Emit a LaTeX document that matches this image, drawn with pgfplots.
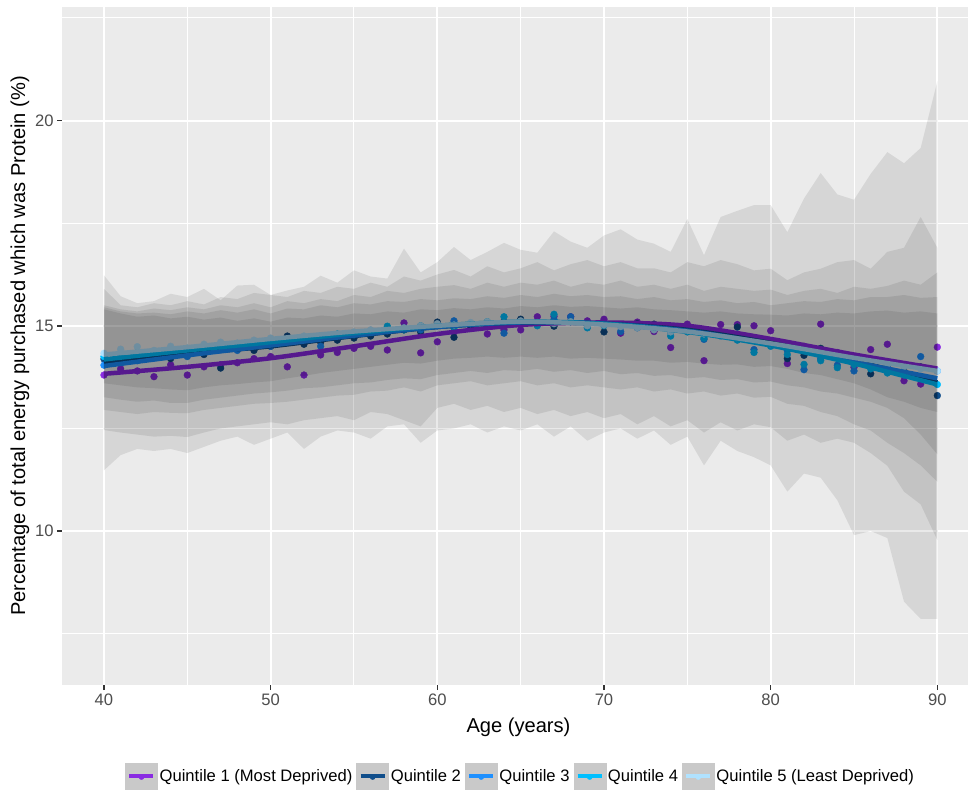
\documentclass[border=0pt]{standalone}
\usepackage{fontspec}
\setmainfont{Liberation Sans}
\usepackage{pgfplots}
\pgfplotsset{compat=1.18}

\definecolor{panel}{HTML}{EBEBEB}
\definecolor{grey30}{HTML}{4D4D4D}
\definecolor{grey20}{HTML}{333333}
\definecolor{keygrey}{HTML}{C9C9C9}
\definecolor{q1}{HTML}{8A2BE2}
\definecolor{q2}{HTML}{104E8B}
\definecolor{q3}{HTML}{1E90FF}
\definecolor{q4}{HTML}{00BFFF}
\definecolor{q5}{HTML}{B0E2FF}

\newcommand{\ticksize}{\fontsize{16.6}{19}\selectfont}
\newcommand{\titlesize}{\fontsize{20.1}{24}\selectfont}

\begin{document}
\begin{tikzpicture}
\begin{axis}[
  at={(0pt,0pt)}, anchor=south west,
  scale only axis, width=905.7pt, height=678pt,
  xmin=37.5, xmax=91.84, ymin=6.25, ymax=22.765,
  axis background/.style={fill=panel},
  axis line style={draw=none},
  xtick={40,50,...,90}, ytick={10,15,20},
  minor xtick={45,55,65,75,85}, minor ytick={7.5,12.5,17.5,22.5},
  grid=both,
  major grid style={white, line width=2pt},
  minor grid style={white, line width=1pt},
  tick pos=left, tick align=outside,
  major tick length=5.2pt, minor tick length=0pt,
  tick style={grey20, line width=1.6pt},
  /pgf/number format/assume math mode=true,
  tick label style={font=\ticksize, text=grey30},
  xlabel={Age (years)},
  ylabel={Percentage of total energy purchased which was Protein (\%)},
  every axis x label/.style={at={(axis description cs:0.5037,-0.0619)}, anchor=center, font=\titlesize, text=black},
  every axis y label/.style={at={(axis description cs:-0.0467,0.5)}, anchor=center, rotate=90, font=\titlesize, text=black},
  legend style={at={(axis description cs:0.5060,-0.1342)}, anchor=center,
    draw=none, fill=none, legend columns=5, font=\ticksize,
    /tikz/every even column/.append style={column sep=2pt}},
  legend cell align=left,
  clip=true, clip marker paths=true,
]

% ---- mean values by age, one series per deprivation quintile ----
\addplot[only marks, mark=*, mark size=3.4pt, color=q1, forget plot] coordinates {
(40,13.80) (41,13.95) (42,13.90) (43,13.76) (44,14.05) (45,13.80) (46,14.00) (47,14.05) (48,14.10) (49,14.20)
(50,14.25) (51,14.00) (52,13.80) (53,14.29) (54,14.35) (55,14.45) (56,14.50) (57,14.41) (58,15.07) (59,14.34)
(60,14.61) (61,14.85) (62,14.95) (63,14.80) (64,14.90) (65,14.90) (66,15.22) (67,15.23) (68,15.22) (69,15.12)
(70,15.16) (71,14.82) (72,15.09) (73,14.86) (74,14.47) (75,15.04) (76,14.15) (77,15.03) (78,15.03) (79,15.00)
(80,14.88) (81,14.08) (82,14.50) (83,15.04) (84,14.35) (85,13.99) (86,14.42) (87,14.55) (88,13.66) (89,13.58)
(90,14.48)};
\addplot[only marks, mark=*, mark size=3.4pt, color=q2, forget plot] coordinates {
(40,14.19) (41,14.15) (42,14.25) (43,14.30) (44,14.20) (45,14.35) (46,14.30) (47,13.97) (48,14.45) (49,14.40)
(50,14.50) (51,14.75) (52,14.55) (53,14.60) (54,14.65) (55,14.70) (56,14.75) (57,14.80) (58,14.90) (59,14.85)
(60,15.09) (61,14.72) (62,15.00) (63,15.05) (64,15.10) (65,15.16) (66,15.05) (67,14.99) (68,15.10) (69,15.05)
(70,14.85) (71,15.00) (72,15.05) (73,15.04) (74,14.90) (75,14.95) (76,14.80) (77,14.85) (78,14.97) (79,14.70)
(80,14.60) (81,14.20) (82,14.28) (83,14.45) (84,14.30) (85,14.10) (86,13.83) (87,14.05) (88,13.90) (89,14.00)
(90,13.30)};
\addplot[only marks, mark=*, mark size=3.4pt, color=q3, forget plot] coordinates {
(40,14.04) (41,14.20) (42,14.15) (43,14.30) (44,14.35) (45,14.25) (46,14.40) (47,14.45) (48,14.40) (49,14.55)
(50,14.50) (51,14.60) (52,14.65) (53,14.50) (54,14.75) (55,14.80) (56,14.85) (57,14.90) (58,14.95) (59,14.90)
(60,15.00) (61,15.12) (62,15.05) (63,15.00) (64,14.82) (65,15.10) (66,15.05) (67,15.15) (68,15.22) (69,15.00)
(70,15.05) (71,14.86) (72,14.95) (73,15.00) (74,14.85) (75,14.90) (76,14.67) (77,14.75) (78,14.80) (79,14.42)
(80,14.55) (81,14.40) (82,13.93) (83,14.20) (84,14.04) (85,13.90) (86,14.10) (87,14.00) (88,13.85) (89,14.25)
(90,13.90)};
\addplot[only marks, mark=*, mark size=3.4pt, color=q4, forget plot] coordinates {
(40,14.25) (41,14.30) (42,14.35) (43,14.25) (44,14.40) (45,14.45) (46,14.40) (47,14.50) (48,14.55) (49,14.50)
(50,14.62) (51,14.65) (52,14.70) (53,14.68) (54,14.80) (55,14.78) (56,14.85) (57,14.99) (58,14.90) (59,15.00)
(60,15.02) (61,14.95) (62,15.05) (63,15.10) (64,15.22) (65,15.08) (66,15.00) (67,15.28) (68,15.10) (69,14.95)
(70,15.00) (71,15.02) (72,14.99) (73,14.95) (74,14.75) (75,14.85) (76,14.70) (77,14.80) (78,14.65) (79,14.35)
(80,14.50) (81,14.30) (82,14.06) (83,14.15) (84,13.98) (85,14.05) (86,13.95) (87,13.85) (88,13.80) (89,13.75)
(90,13.57)};
\addplot[only marks, mark=*, mark size=3.4pt, color=q5, forget plot] coordinates {
(40,14.33) (41,14.43) (42,14.49) (43,14.40) (44,14.50) (45,14.45) (46,14.55) (47,14.60) (48,14.58) (49,14.65)
(50,14.70) (51,14.68) (52,14.75) (53,14.72) (54,14.79) (55,14.85) (56,14.90) (57,14.88) (58,14.95) (59,15.00)
(60,15.05) (61,15.02) (62,15.08) (63,15.10) (64,15.05) (65,15.12) (66,15.08) (67,15.05) (68,15.10) (69,15.00)
(70,15.02) (71,14.98) (72,14.95) (73,14.90) (74,14.85) (75,14.88) (76,14.80) (77,14.75) (78,14.70) (79,14.65)
(80,14.55) (81,14.50) (82,14.42) (83,14.35) (84,14.30) (85,14.20) (86,14.15) (87,14.05) (88,14.00) (89,13.95)
(90,13.90)};

% ---- smoothed trends ----
\addplot[smooth, line width=4.5pt, color=q1, forget plot] coordinates {
(40,13.83) (45,14.00) (50,14.21) (55,14.50) (60,14.80) (65,15.02) (70,15.08) (75,15.00) (80,14.68) (85,14.30) (90,13.96)};
\addplot[smooth, line width=4.5pt, color=q2, forget plot] coordinates {
(40,14.10) (45,14.32) (50,14.50) (55,14.75) (60,14.97) (65,15.08) (70,15.05) (75,14.90) (80,14.58) (85,14.15) (90,13.62)};
\addplot[smooth, line width=4.5pt, color=q3, forget plot] coordinates {
(40,14.02) (45,14.28) (50,14.52) (55,14.76) (60,14.97) (65,15.08) (70,15.05) (75,14.88) (80,14.55) (85,14.12) (90,13.72)};
\addplot[smooth, line width=4.5pt, color=q4, forget plot] coordinates {
(40,14.18) (45,14.40) (50,14.60) (55,14.82) (60,15.00) (65,15.10) (70,15.05) (75,14.85) (80,14.52) (85,14.08) (90,13.57)};
\addplot[smooth, line width=4.5pt, color=q5, forget plot] coordinates {
(40,14.30) (45,14.48) (50,14.68) (55,14.86) (60,15.00) (65,15.10) (70,15.03) (75,14.86) (80,14.57) (85,14.22) (90,13.90)};

% ---- spread bands (upper edge by age, then lower edge back) ----
\addplot[fill=black, fill opacity=0.085, draw=none, forget plot] coordinates {
(40,16.23) (41,15.72) (42,15.55) (43,15.60) (44,15.78) (45,15.70) (46,15.90) (47,15.62) (48,15.98) (49,16.00)
(50,15.75) (51,15.86) (52,15.95) (53,16.22) (54,16.05) (55,16.35) (56,16.20) (57,16.15) (58,16.88) (59,16.30)
(60,16.55) (61,16.92) (62,16.60) (63,16.80) (64,17.02) (65,16.85) (66,16.78) (67,17.30) (68,17.05) (69,16.90)
(70,17.20) (71,17.35) (72,17.10) (73,17.00) (74,16.80) (75,17.60) (76,16.72) (77,17.65) (78,17.80) (79,17.94)
(80,17.94) (81,17.28) (82,18.10) (83,18.72) (84,18.20) (85,18.07) (86,18.70) (87,19.23) (88,18.96) (89,19.33)
(90,20.96)
(90,7.86) (89,7.86) (88,8.28) (87,9.83) (86,10.00) (85,9.90) (84,10.75) (83,11.30) (82,11.40) (81,10.96)
(80,11.60) (79,11.80) (78,11.95) (77,12.20) (76,11.60) (75,12.30) (74,12.10) (73,12.45) (72,12.25) (71,12.50)
(70,12.40) (69,12.20) (68,12.55) (67,12.30) (66,12.60) (65,12.45) (64,12.55) (63,12.40) (62,12.60) (61,12.50)
(60,12.45) (59,12.15) (58,12.60) (57,12.55) (56,12.25) (55,12.40) (54,12.45) (53,12.30) (52,12.00) (51,12.40)
(50,12.25) (49,12.10) (48,12.30) (47,12.20) (46,12.05) (45,11.90) (44,12.00) (43,11.95) (42,12.00) (41,11.85)
(40,11.48)};
\addplot[fill=black, fill opacity=0.085, draw=none, forget plot] coordinates {
(40,15.90) (41,15.50) (42,15.45) (43,15.55) (44,15.50) (45,15.60) (46,15.52) (47,15.70) (48,15.65) (49,15.80)
(50,15.75) (51,15.70) (52,15.85) (53,15.80) (54,15.95) (55,15.90) (56,16.05) (57,15.95) (58,16.20) (59,16.10)
(60,16.25) (61,16.36) (62,16.20) (63,16.45) (64,16.30) (65,16.40) (66,16.55) (67,16.35) (68,16.50) (69,16.60)
(70,16.45) (71,16.55) (72,16.40) (73,16.40) (74,16.30) (75,16.55) (76,16.45) (77,16.60) (78,16.50) (79,16.35)
(80,16.39) (81,16.11) (82,16.30) (83,16.39) (84,16.55) (85,16.60) (86,16.39) (87,16.80) (88,16.90) (89,17.65)
(90,16.90)
(90,9.78) (89,10.65) (88,10.96) (87,11.59) (86,11.90) (85,12.15) (84,12.25) (83,12.15) (82,12.35) (81,12.20)
(80,12.53) (79,12.60) (78,12.45) (77,12.65) (76,12.40) (75,12.70) (74,12.55) (73,12.80) (72,12.60) (71,12.85)
(70,12.75) (69,12.90) (68,12.80) (67,12.95) (66,12.85) (65,13.00) (64,12.90) (63,13.05) (62,12.95) (61,13.10)
(60,13.00) (59,12.55) (58,12.70) (57,12.85) (56,12.90) (55,12.70) (54,12.80) (53,12.75) (52,12.70) (51,12.60)
(50,12.65) (49,12.60) (48,12.55) (47,12.50) (46,12.40) (45,12.29) (44,12.32) (43,12.30) (42,12.35) (41,12.40)
(40,12.46)};
\addplot[fill=black, fill opacity=0.085, draw=none, forget plot] coordinates {
(40,15.50) (41,15.40) (42,15.35) (43,15.42) (44,15.38) (45,15.45) (46,15.40) (47,15.50) (48,15.45) (49,15.55)
(50,15.45) (51,15.60) (52,15.55) (53,15.65) (54,15.60) (55,15.75) (56,15.70) (57,15.85) (58,15.80) (59,15.90)
(60,15.95) (61,15.99) (62,15.90) (63,16.05) (64,15.95) (65,16.05) (66,16.00) (67,16.10) (68,15.95) (69,16.05)
(70,16.00) (71,16.10) (72,15.95) (73,16.00) (74,15.90) (75,16.00) (76,15.85) (77,15.95) (78,15.90) (79,15.85)
(80,15.88) (81,15.75) (82,15.85) (83,15.90) (84,15.80) (85,15.95) (86,15.90) (87,15.97) (88,16.10) (89,16.00)
(90,16.30)
(90,11.20) (89,11.60) (88,11.90) (87,12.15) (86,12.45) (85,12.60) (84,12.80) (83,12.90) (82,13.05) (81,13.10)
(80,13.27) (79,13.25) (78,13.35) (77,13.30) (76,13.40) (75,13.35) (74,13.45) (73,13.40) (72,13.50) (71,13.45)
(70,13.50) (69,13.55) (68,13.50) (67,13.60) (66,13.55) (65,13.65) (64,13.60) (63,13.55) (62,13.65) (61,13.60)
(60,13.55) (59,13.40) (58,13.50) (57,13.42) (56,13.40) (55,13.32) (54,13.30) (53,13.25) (52,13.20) (51,13.15)
(50,13.12) (49,13.10) (48,13.05) (47,13.00) (46,12.95) (45,12.87) (44,12.88) (43,12.90) (42,12.85) (41,12.90)
(40,12.95)};
\addplot[fill=black, fill opacity=0.085, draw=none, forget plot] coordinates {
(40,15.45) (41,15.35) (42,15.30) (43,15.32) (44,15.28) (45,15.35) (46,15.30) (47,15.38) (48,15.32) (49,15.40)
(50,15.30) (51,15.42) (52,15.40) (53,15.50) (54,15.45) (55,15.55) (56,15.52) (57,15.60) (58,15.58) (59,15.65)
(60,15.62) (61,15.67) (62,15.65) (63,15.72) (64,15.68) (65,15.75) (66,15.70) (67,15.78) (68,15.72) (69,15.75)
(70,15.70) (71,15.72) (72,15.65) (73,15.70) (74,15.62) (75,15.65) (76,15.58) (77,15.62) (78,15.55) (79,15.58)
(80,15.50) (81,15.55) (82,15.60) (83,15.58) (84,15.65) (85,15.62) (86,15.70) (87,15.70) (88,15.75) (89,15.68)
(90,15.70)
(90,11.87) (89,12.35) (88,12.75) (87,13.00) (86,13.15) (85,13.25) (84,13.35) (83,13.40) (82,13.50) (81,13.55)
(80,13.64) (79,13.62) (78,13.70) (77,13.68) (76,13.75) (75,13.72) (74,13.80) (73,13.78) (72,13.85) (71,13.82)
(70,13.90) (69,13.85) (68,13.92) (67,13.88) (66,13.95) (65,13.90) (64,13.92) (63,13.85) (62,13.90) (61,13.85)
(60,13.80) (59,13.70) (58,13.72) (57,13.68) (56,13.62) (55,13.60) (54,13.55) (53,13.50) (52,13.48) (51,13.42)
(50,13.38) (49,13.35) (48,13.30) (47,13.25) (46,13.20) (45,13.12) (44,13.12) (43,13.18) (42,13.15) (41,13.20)
(40,13.26)};
\addplot[fill=black, fill opacity=0.085, draw=none, forget plot] coordinates {
(40,15.40) (41,15.30) (42,15.22) (43,15.25) (44,15.18) (45,15.22) (46,15.15) (47,15.20) (48,15.12) (49,15.18)
(50,15.10) (51,15.20) (52,15.18) (53,15.25) (54,15.22) (55,15.30) (56,15.28) (57,15.35) (58,15.32) (59,15.40)
(60,15.38) (61,15.43) (62,15.40) (63,15.45) (64,15.42) (65,15.48) (66,15.45) (67,15.50) (68,15.46) (69,15.48)
(70,15.45) (71,15.42) (72,15.45) (73,15.40) (74,15.38) (75,15.35) (76,15.32) (77,15.35) (78,15.30) (79,15.28)
(80,15.27) (81,15.25) (82,15.30) (83,15.28) (84,15.32) (85,15.30) (86,15.35) (87,15.37) (88,15.32) (89,15.35)
(90,15.30)
(90,12.90) (89,13.00) (88,13.15) (87,13.26) (86,13.45) (85,13.60) (84,13.70) (83,13.80) (82,13.85) (81,13.95)
(80,14.02) (79,14.00) (78,14.06) (77,14.05) (76,14.08) (75,14.12) (74,14.10) (73,14.15) (72,14.15) (71,14.18)
(70,14.20) (69,14.22) (68,14.20) (67,14.25) (66,14.22) (65,14.25) (64,14.22) (63,14.25) (62,14.22) (61,14.20)
(60,14.15) (59,14.08) (58,14.10) (57,14.05) (56,14.00) (55,13.95) (54,13.90) (53,13.85) (52,13.78) (51,13.72)
(50,13.65) (49,13.62) (48,13.58) (47,13.55) (46,13.50) (45,13.43) (44,13.45) (43,13.48) (42,13.50) (41,13.55)
(40,13.60)};

% ---- legend keys: band fill, trend line and point ----
\addlegendimage{q1, legend image code/.code={
  \fill[keygrey] (0pt,-13pt) rectangle (32pt,13pt);
  \draw[line width=4pt] (4pt,0pt) -- (28pt,0pt);
  \fill (16pt,-1pt) circle (2.6pt);}}
\addlegendentry{Quintile 1 (Most Deprived)}
\addlegendimage{q2, legend image code/.code={
  \fill[keygrey] (0pt,-13pt) rectangle (32pt,13pt);
  \draw[line width=4pt] (4pt,0pt) -- (28pt,0pt);
  \fill (16pt,-1pt) circle (2.6pt);}}
\addlegendentry{Quintile 2}
\addlegendimage{q3, legend image code/.code={
  \fill[keygrey] (0pt,-13pt) rectangle (32pt,13pt);
  \draw[line width=4pt] (4pt,0pt) -- (28pt,0pt);
  \fill (16pt,-1pt) circle (2.6pt);}}
\addlegendentry{Quintile 3}
\addlegendimage{q4, legend image code/.code={
  \fill[keygrey] (0pt,-13pt) rectangle (32pt,13pt);
  \draw[line width=4pt] (4pt,0pt) -- (28pt,0pt);
  \fill (16pt,-1pt) circle (2.6pt);}}
\addlegendentry{Quintile 4}
\addlegendimage{q5, legend image code/.code={
  \fill[keygrey] (0pt,-13pt) rectangle (32pt,13pt);
  \draw[line width=4pt] (4pt,0pt) -- (28pt,0pt);
  \fill (16pt,-1pt) circle (2.6pt);}}
\addlegendentry{Quintile 5 (Least Deprived)}

\end{axis}
\pgfresetboundingbox
\path[use as bounding box] (-62.3pt,-105pt) rectangle (905.7pt,685pt);
\end{tikzpicture}
\end{document}
